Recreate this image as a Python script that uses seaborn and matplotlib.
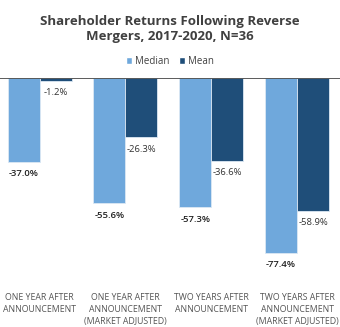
import matplotlib
matplotlib.use("Agg")
import matplotlib.pyplot as plt
import seaborn as sns
import pandas as pd
from matplotlib.patches import Patch

categories = ["ONE YEAR AFTER\nANNOUNCEMENT",
              "ONE YEAR AFTER\nANNOUNCEMENT\n(MARKET ADJUSTED)",
              "TWO YEARS AFTER\nANNOUNCEMENT",
              "TWO YEARS AFTER\nANNOUNCEMENT\n(MARKET ADJUSTED)"]
median = [-37.0, -55.6, -57.3, -77.4]
mean = [-1.2, -26.3, -36.6, -58.9]
series = ["Median", "Mean"]
colors = ["#6fa8dc", "#1f4e79"]

df = pd.DataFrame({
    "cat": categories * 2,
    "val": median + mean,
    "series": ["Median"] * 4 + ["Mean"] * 4,
})

sns.set_style("white")
plt.rcParams["font.family"] = ["Open Sans", "DejaVu Sans"]

fig = plt.figure(figsize=(3.4, 3.27), dpi=100)
ax = fig.add_axes([-0.01, 0.141, 1.01, 0.62])
sns.barplot(data=df, x="cat", y="val", hue="series", hue_order=series,
            palette=colors, width=0.745, ax=ax, legend=False,
            edgecolor="#dce8f4", linewidth=0.6, saturation=1)

ax.set_ylim(-90, 0)
ax.set_xlim(-0.5, 3.5)
ax.axhline(0, color="#404040", lw=1.2, zorder=5)
for s in ax.spines.values():
    s.set_visible(False)
ax.set_yticks([])
ax.set_xlabel("")
ax.set_ylabel("")
ax.tick_params(axis="x", length=0, pad=9, labelsize=6.3, colors="#555555")
for t in ax.get_xticklabels():
    t.set_linespacing(1.4)
    t.set_va("top")

for i, cont in enumerate(ax.containers):
    for bar, v in zip(cont, [median, mean][i]):
        ax.annotate(f"{v:.1f}%", (bar.get_x() + bar.get_width() / 2, v),
                    xytext=(0, -12), textcoords="offset pixels",
                    ha="center", va="center", fontsize=6.8,
                    color="#222222" if i == 0 else "#333333",
                    fontweight="semibold" if i == 0 else "normal")

fig.text(0.5, 0.91, "Shareholder Returns Following Reverse\nMergers, 2017-2020, N=36",
         ha="center", va="center", fontsize=9.5, fontweight="bold",
         color="#404040", linespacing=1.2)

handles = [Patch(facecolor=c, label=s) for s, c in zip(series, colors)]
fig.legend(handles=handles, loc="center", bbox_to_anchor=(0.5, 0.812), ncol=2,
           frameon=False, fontsize=7, handlelength=0.6, handleheight=0.6,
           handletextpad=0.3, columnspacing=1.0, labelcolor="#404040")

fig.savefig("out.png", dpi=100, facecolor="white")
